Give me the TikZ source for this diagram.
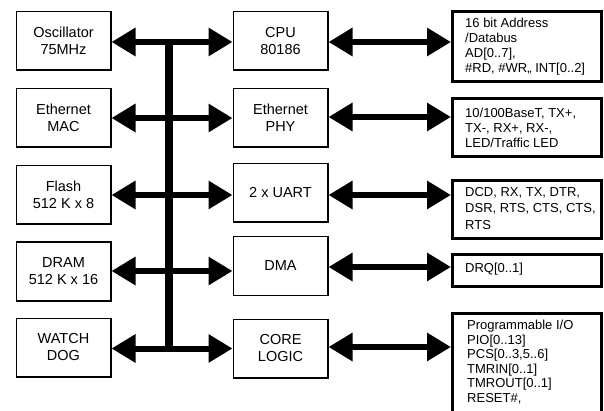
\documentclass[tikz,border=0pt]{standalone}
\usepackage{fontspec}
\setmainfont{Liberation Sans}
\usetikzlibrary{arrows.meta}
\tikzset{
  lbox/.style={draw, line width=1.5pt, minimum width=94.5pt, minimum height=58.5pt,
    inner sep=0pt, align=center, font=\fontsize{14.5}{17}\selectfont},
  rbox/.style={draw, line width=3pt, minimum width=149pt, inner sep=0pt},
  rtext/.style={anchor=west, inner sep=0pt, align=left, font=\fontsize{13}{15.2}\selectfont},
  busarrow/.style={line width=6pt, {Triangle[length=24pt,width=27pt]}-{Triangle[length=24pt,width=27pt]}},
  vbus/.style={line width=8pt}
}
\begin{document}
\begin{tikzpicture}[x=1pt,y=-1pt]
\clip (0,0) rectangle (604,411);
\fill[white] (0,0) rectangle (604,411);
% left column
\node[lbox] (osc) at (63.5,41) {Oscillator\\75MHz};
\node[lbox] (mac) at (63.5,118) {Ethernet\\MAC};
\node[lbox] (flash) at (63.5,195) {Flash\\512 K x 8};
\node[lbox] (dram) at (63.5,271.5) {DRAM\\512 K x 16};
\node[lbox] (wd) at (63.5,347.5) {WATCH\\DOG};
% middle column
\node[lbox] (cpu) at (280.5,41) {CPU\\80186};
\node[lbox] (phy) at (280.5,118) {Ethernet\\PHY};
\node[lbox] (uart) at (280.5,193) {2 x UART};
\node[lbox] (dma) at (280.5,266) {DMA};
\node[lbox] (core) at (280.5,348.5) {CORE\\LOGIC};
% right column
\node[rbox, minimum height=70pt] (r1) at (527,46.5) {};
\node[rbox, minimum height=58pt] (r2) at (527,127.5) {};
\node[rbox, minimum height=58pt] (r3) at (527,209.5) {};
\node[rbox, minimum height=32pt] (r4) at (527,270.5) {};
\node[rbox, minimum height=101pt] (r5) at (527,363.5) {};
\node[rtext] (t1) at (465,46.5) {16 bit Address\\/Databus\\AD[0..7],\\\#RD, \#WR,, INT[0..2]};
\node[rtext] (t2) at (465,128) {10/100BaseT, TX+,\\TX-, RX+, RX-,\\LED/Traffic LED};
\node[rtext, font=\fontsize{13}{16.5}\selectfont] (t3) at (465,208.5) {DCD, RX, TX, DTR,\\DSR, RTS, CTS, CTS,\\RTS};
\node[rtext] (t4) at (465,269.5) {DRQ[0..1]};
\node[rtext, font=\fontsize{13}{14.5}\selectfont] (t5) at (467,362) {Programmable I/O\\PIO[0..13]\\PCS[0..3,5..6]\\TMRIN[0..1]\\TMROUT[0..1]\\RESET\#,};
% vertical bus
\coordinate (bt) at (169,41);
\coordinate (bb) at (169,348);
\draw[vbus] (bt) -- (bb);
% left-middle arrows
\draw[busarrow] ([yshift=-1pt]osc.east) -- ([yshift=-1pt]osc.east -| cpu.west);
\draw[busarrow] (mac.east) -- (mac.east -| phy.west);
\draw[busarrow] (flash.east) -- (flash.east -| uart.west);
\draw[busarrow] ([yshift=0.5pt]dram.east) -- ([yshift=0.5pt]dram.east -| dma.west);
\draw[busarrow] ([yshift=-1pt]wd.east) -- ([yshift=-1pt]wd.east -| core.west);
% middle-right arrows
\draw[busarrow] ([yshift=-1pt]cpu.east) -- ([yshift=-1pt]cpu.east -| r1.west);
\draw[busarrow] ([yshift=1pt]phy.east) -- ([yshift=1pt]phy.east -| r2.west);
\draw[busarrow] (uart.east |- flash.east) -- (flash.east -| r3.west);
\draw[busarrow] ([yshift=-1pt]dma.east) -- ([yshift=-1pt]dma.east -| r4.west);
\draw[busarrow] ([yshift=1.5pt]core.east) -- ([yshift=1.5pt]core.east -| r5.west);
\end{tikzpicture}
\end{document}
